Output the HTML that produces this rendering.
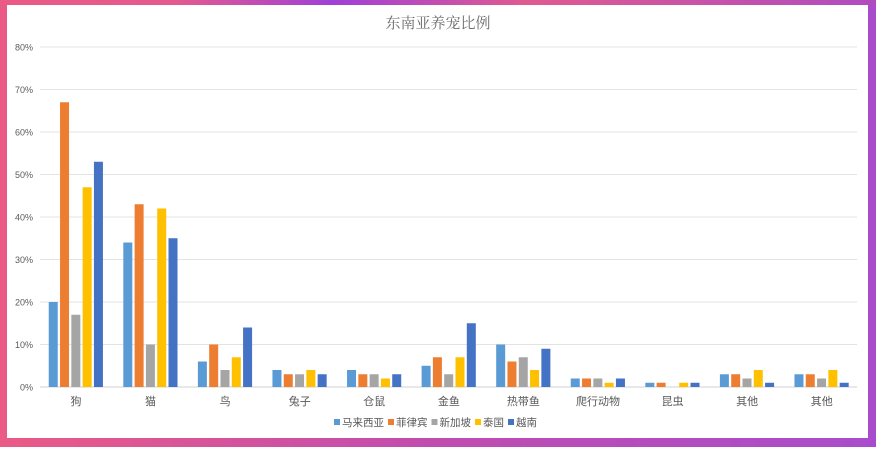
<!DOCTYPE html>
<html><head><meta charset="utf-8"><style>
body{margin:0;width:876px;height:447px;overflow:hidden;font-family:"Liberation Sans","Noto Sans CJK SC",sans-serif}
</style></head><body>
<svg width="876" height="447">
<defs>
<linearGradient id="bg" x1="0" y1="0" x2="1" y2="0">
<stop offset="0" stop-color="#ea5a86"/><stop offset="0.5" stop-color="#c04cb0"/><stop offset="1" stop-color="#a94ccc"/></linearGradient>
<linearGradient id="tp" x1="0" y1="0" x2="1" y2="0">
<stop offset="0" stop-color="#ea5a86"/><stop offset="0.2" stop-color="#e45a8e"/><stop offset="0.38" stop-color="#a040d8"/><stop offset="0.6" stop-color="#e05a90"/><stop offset="1" stop-color="#b04cc0"/></linearGradient>
</defs>
<rect width="876" height="447" fill="url(#bg)"/>
<rect width="876" height="6" fill="url(#tp)"/>
<rect x="7" y="5" width="861" height="433" fill="#fff"/>
<text x="438" y="28" text-anchor="middle" font-size="15" fill="#6a6a6a" font-family="'Noto Serif CJK SC',serif">东南亚养宠比例</text>
<g id="grid"></g><g id="bars"></g><g id="labels"></g><g id="legend"></g>
</svg>
<script>
const categories=["狗","猫","鸟","兔子","仓鼠","金鱼","热带鱼","爬行动物","昆虫","其他","其他"];
const seriesNames=["马来西亚","菲律宾","新加坡","泰国","越南"];
const malaysia=[20,34,6,4,4,5,10,2,1,3,3];
const philippines=[67,43,10,3,3,7,6,2,1,3,3];
const singapore=[17,10,4,3,3,3,7,2,0,2,2];
const thailand=[47,42,7,4,2,7,4,1,1,4,4];
const vietnam=[53,35,14,3,3,15,9,2,1,1,1];
const yTicks=[0,10,20,30,40,50,60,70,80];
const colors=["#5b9bd5","#ed7d31","#a5a5a5","#ffc000","#4472c4"];
const series=[malaysia,philippines,singapore,thailand,vietnam];
const NS="http://www.w3.org/2000/svg";
const x0=38.7,x1=859,yB=387,yT=47,maxV=80;
const y=v=>yB-(v/maxV)*(yB-yT);
const step=(x1-x0)/categories.length;
const cx=i=>x0+step*(i+0.5);
function mk(t,a,p){const e=document.createElementNS(NS,t);for(const k in a)e.setAttribute(k,a[k]);p.appendChild(e);return e;}
const grid=document.getElementById('grid'),bars=document.getElementById('bars'),labels=document.getElementById('labels'),legend=document.getElementById('legend');
yTicks.forEach(v=>{
 const l=mk('line',{x1:40,x2:857,y1:y(v),y2:y(v),stroke:v===0?'#d0d0d0':'#e3e3e3','stroke-width':1},grid);
 
 
 const t=mk('text',{x:33,y:y(v)+3.5,'text-anchor':'end','font-size':9,fill:'#595959'},labels);
 t.textContent=v+'%';
 
 
});
const bw=9,bs=11.3;
categories.forEach((c,i)=>{
 series.forEach((s,j)=>{
  const bx=cx(i)-2.5*bs+j*bs+1;
  const r=mk('rect',{x:bx,y:y(s[i]),width:bw,height:yB-y(s[i]),fill:colors[j]},bars);
  
  
 });
 const t=mk('text',{x:cx(i),y:405,'text-anchor':'middle','font-size':11,fill:'#595959'},labels);
 t.textContent=c;
 
 
});
let lx=334;
seriesNames.forEach((n,j)=>{
 const g=mk('g',{},legend);
 
 
 mk('rect',{x:lx,y:419,width:6,height:6,fill:colors[j]},g);
 const t=mk('text',{x:lx+8,y:426,'font-size':10.5,fill:'#595959'},g);
 t.textContent=n;
 lx+=8+n.length*10.5+4;
});
</script>
</body></html>
